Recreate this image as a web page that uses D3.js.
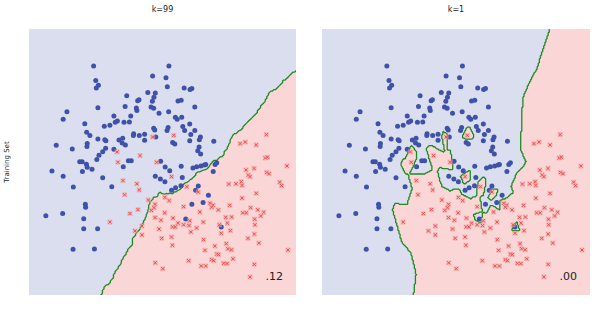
<!DOCTYPE html>
<html>
<head>
<meta charset="utf-8">
<script src="https://cdn.jsdelivr.net/npm/d3@7"></script>
<style>
  body { margin: 0; background: #fff; }
  text { font-family: "DejaVu Sans", sans-serif; }
</style>
</head>
<body>
<div id="chart"></div>
<script>
// training set, class 0 (blue dots); values in panel units 0-10
const blueX = [2.42, 4.63, 2.50, 2.60, 2.52, 4.45, 4.73, 3.66, 4.68, 4.12, 4.07, 4.62, 3.60, 4.02, 4.04, 4.57, 4.67, 2.58, 1.42, 4.87,
  3.18, 3.81, 1.28, 3.23, 3.31, 3.56, 3.76, 3.03, 2.82, 2.09, 4.67, 4.71, 2.16, 2.28, 3.92, 3.91, 4.13, 4.33, 4.75, 2.58,
  2.84, 2.88, 3.37, 3.51, 4.33, 3.49, 3.61, 2.18, 2.17, 1.02, 1.62, 2.87, 3.18, 2.76, 2.62, 2.54, 1.90, 1.99, 3.72, 3.83,
  4.93, 5.24, 5.13, 5.18, 5.81, 6.03, 6.10, 5.58, 5.70, 6.21, 5.23, 5.48, 5.55, 5.72, 6.02, 5.21, 5.17, 5.76, 5.83, 6.21,
  6.06, 6.42, 6.38, 6.02, 5.38, 5.46, 6.92, 6.37, 6.32, 6.43, 7.03, 2.15, 2.18, 2.36, 2.00, 3.53, 0.86, 1.28, 2.76, 4.73,
  4.92, 1.66, 3.10, 2.11, 2.12, 0.63, 1.26, 2.05, 2.05, 2.57, 1.65, 2.45, 5.10, 5.27, 5.70, 6.14, 6.28, 6.44, 6.57, 6.62,
  6.97, 6.90, 5.74, 5.09, 5.69, 5.49, 5.34, 6.34, 6.24, 6.72, 6.10, 6.52, 5.87, 7.20];
const blueY = [8.61, 8.23, 8.06, 7.89, 7.78, 7.61, 7.59, 7.49, 7.43, 7.34, 7.30, 7.28, 7.09, 7.03, 6.94, 7.07, 7.02, 7.04, 6.89, 6.83,
  6.73, 6.73, 6.61, 6.49, 6.54, 6.49, 6.50, 6.38, 6.34, 6.44, 6.27, 6.20, 6.12, 6.00, 6.06, 6.00, 6.00, 6.04, 5.94, 5.86,
  5.84, 5.80, 5.83, 5.89, 5.82, 5.71, 5.64, 5.70, 5.58, 5.63, 5.49, 5.52, 5.48, 5.39, 5.25, 5.09, 5.01, 5.01, 5.05, 5.05,
  5.03, 8.61, 8.17, 7.83, 7.78, 7.73, 7.76, 7.29, 7.32, 7.07, 6.89, 6.68, 6.61, 6.68, 6.43, 6.30, 6.18, 6.33, 6.18, 6.18,
  6.03, 5.94, 5.84, 5.80, 5.73, 5.68, 5.78, 5.56, 5.42, 5.30, 4.97, 4.92, 4.80, 4.73, 4.64, 4.82, 4.66, 4.46, 4.41, 4.46,
  4.36, 4.06, 4.07, 3.41, 3.30, 2.98, 3.06, 2.87, 2.49, 2.49, 1.72, 1.73, 4.81, 4.67, 4.84, 4.77, 4.82, 4.85, 4.89, 4.91,
  4.91, 4.64, 4.42, 4.26, 4.11, 4.03, 3.94, 4.10, 3.94, 3.75, 3.41, 3.48, 2.86, 2.56];

// training set, class 1 (red crosses)
const redX = [4.63, 3.30, 4.16, 3.33, 4.78, 5.42, 8.89, 7.91, 8.10, 8.51, 8.85, 8.93, 3.52, 4.04, 4.13, 3.58, 4.47, 4.72, 4.68, 4.58,
  4.08, 3.78, 4.72, 4.94, 3.03, 4.23, 4.87, 3.97, 4.23, 4.97, 4.73, 5.01, 5.34, 5.91, 6.34, 5.09, 5.25, 7.48, 7.75, 7.95,
  7.98, 8.13, 8.43, 8.21, 8.28, 8.90, 8.99, 9.66, 9.39, 9.46, 8.51, 7.98, 6.78, 6.89, 6.84, 7.52, 5.79, 6.40, 7.09, 8.30,
  8.57, 8.79, 8.01, 8.14, 8.68, 5.08, 5.39, 6.02, 6.53, 5.58, 5.38, 5.48, 5.79, 5.99, 6.28, 7.37, 7.59, 7.43, 7.13, 8.45,
  8.46, 7.54, 6.06, 7.20, 8.44, 5.34, 6.54, 8.20, 8.61, 7.39, 5.37, 6.96, 7.45, 7.58, 6.59, 9.70, 7.03, 7.10, 7.64, 6.84,
  6.92, 5.98, 8.44, 7.29, 7.42, 6.45, 6.62, 8.28];
const redY = [5.94, 5.38, 5.24, 4.99, 4.99, 6.00, 6.03, 5.69, 5.75, 5.64, 5.15, 5.18, 4.30, 4.18, 3.95, 3.77, 3.57, 3.41, 3.28, 3.18,
  3.21, 3.06, 2.91, 2.81, 2.74, 2.59, 2.48, 2.41, 2.26, 2.13, 1.21, 0.99, 4.45, 4.07, 3.87, 3.67, 3.55, 4.17, 4.18, 4.26,
  4.12, 4.70, 4.76, 4.51, 4.45, 4.61, 4.56, 4.85, 4.24, 4.11, 3.82, 3.64, 3.45, 3.38, 3.30, 3.37, 3.32, 3.12, 3.20, 3.28,
  3.20, 3.11, 3.09, 3.09, 2.97, 3.09, 2.89, 2.79, 2.74, 2.70, 2.56, 2.56, 2.64, 2.61, 2.52, 2.92, 2.93, 2.70, 2.64, 2.85,
  2.64, 2.42, 2.37, 2.32, 2.29, 2.18, 2.08, 2.13, 1.95, 1.93, 1.87, 1.84, 1.74, 1.70, 1.68, 1.69, 1.54, 1.52, 1.36, 1.33,
  1.29, 1.29, 1.15, 1.19, 1.18, 1.09, 1.09, 0.68];

const titles = ['k=99', 'k=1'];
const kValues = [99, 1];
const scores = ['.12', '.00'];
const rowLabel = 'Training Set';
// feature extent shown across each panel (x is wider than y)
const featureSpan = [6.8, 4.9];

const W = 608, H = 314;
const plotTop = 29, plotBottom = 295;
const panels = [{left: 29, right: 296}, {left: 322, right: 590}];

const svg = d3.select('#chart')
  .append('svg')
  .attr('width', W)
  .attr('height', H);

svg.append('text')
  .attr('transform', `translate(9, ${(plotTop + plotBottom) / 2}) rotate(-90)`)
  .attr('text-anchor', 'middle')
  .style('font-size', '7px')
  .style('fill', '#222')
  .text(rowLabel);

const points = [];
blueX.forEach((x, i) => points.push({x: x, y: blueY[i], c: 0}));
redX.forEach((x, i) => points.push({x: x, y: redY[i], c: 1}));

const wx = featureSpan[0] / 10, wy = featureSpan[1] / 10;

// fraction of red among the k nearest training points
function knn(x, y, k) {
  const d = points.map(p => {
    const dx = (p.x - x) * wx, dy = (p.y - y) * wy;
    return [dx * dx + dy * dy, p.c];
  });
  d.sort((a, b) => a[0] - b[0]);
  let s = 0;
  for (let i = 0; i < k; i++) s += d[i][1];
  return s / k;
}

panels.forEach((pn, pi) => {
  const xScale = d3.scaleLinear().domain([0, 10]).range([pn.left, pn.right]);
  const yScale = d3.scaleLinear().domain([0, 10]).range([plotBottom, plotTop]);
  const g = svg.append('g');

  g.append('clipPath')
    .attr('id', 'clip' + pi)
    .append('rect')
    .attr('x', pn.left).attr('y', plotTop)
    .attr('width', pn.right - pn.left).attr('height', plotBottom - plotTop);

  g.append('rect')
    .attr('x', pn.left).attr('y', plotTop)
    .attr('width', pn.right - pn.left).attr('height', plotBottom - plotTop)
    .attr('fill', '#dadeee');

  // decision surface on a grid a bit larger than the panel
  const n = pi === 0 ? 180 : 260;
  const lo = -0.3, hi = 10.3;
  const step = (hi - lo) / (n - 1);
  const grid = new Array(n * n);
  for (let j = 0; j < n; j++) {
    for (let i = 0; i < n; i++) {
      grid[j * n + i] = knn(lo + i * step, lo + j * step, kValues[pi]);
    }
  }
  const contours = d3.contours().size([n, n]).thresholds([0.5])(grid);
  const path = d3.geoPath(d3.geoTransform({
    point: function (x, y) {
      this.stream.point(xScale(lo + (x - 0.5) * step), yScale(lo + (y - 0.5) * step));
    }
  }));

  const cg = g.append('g').attr('clip-path', `url(#clip${pi})`);
  cg.selectAll('path.region')
    .data(contours)
    .join('path')
    .attr('class', 'region')
    .attr('d', path)
    .attr('fill', '#fad6d6');
  cg.selectAll('path.boundary')
    .data(contours)
    .join('path')
    .attr('class', 'boundary')
    .attr('d', path)
    .attr('fill', 'none')
    .attr('stroke', '#1f8a22')
    .attr('stroke-width', 1.3);

  g.selectAll('circle')
    .data(points.filter(p => p.c === 0))
    .join('circle')
    .attr('cx', d => xScale(d.x))
    .attr('cy', d => yScale(d.y))
    .attr('r', 2.5)
    .attr('fill', '#3f52a9');

  const s = 1.6;
  const crosses = g.selectAll('g.cross')
    .data(points.filter(p => p.c === 1))
    .join('g')
    .attr('class', 'cross')
    .attr('transform', d => `translate(${xScale(d.x)}, ${yScale(d.y)})`);
  crosses.append('rect')
    .attr('x', -2.5).attr('y', -2.5)
    .attr('width', 5).attr('height', 5)
    .attr('fill', '#f3a4a4')
    .attr('opacity', 0.6);
  crosses.append('path')
    .attr('d', `M${-s},${-s}L${s},${s}M${-s},${s}L${s},${-s}`)
    .attr('stroke', '#ec4e4e')
    .attr('stroke-width', 1)
    .attr('fill', 'none');

  svg.append('text')
    .attr('x', (pn.left + pn.right) / 2)
    .attr('y', 12)
    .attr('text-anchor', 'middle')
    .style('font-size', '8px')
    .style('fill', '#222')
    .text(titles[pi]);

  svg.append('text')
    .attr('x', pn.right - 13)
    .attr('y', 280)
    .attr('text-anchor', 'end')
    .style('font-size', '11px')
    .style('fill', '#222')
    .text(scores[pi]);
});
</script>
</body>
</html>
